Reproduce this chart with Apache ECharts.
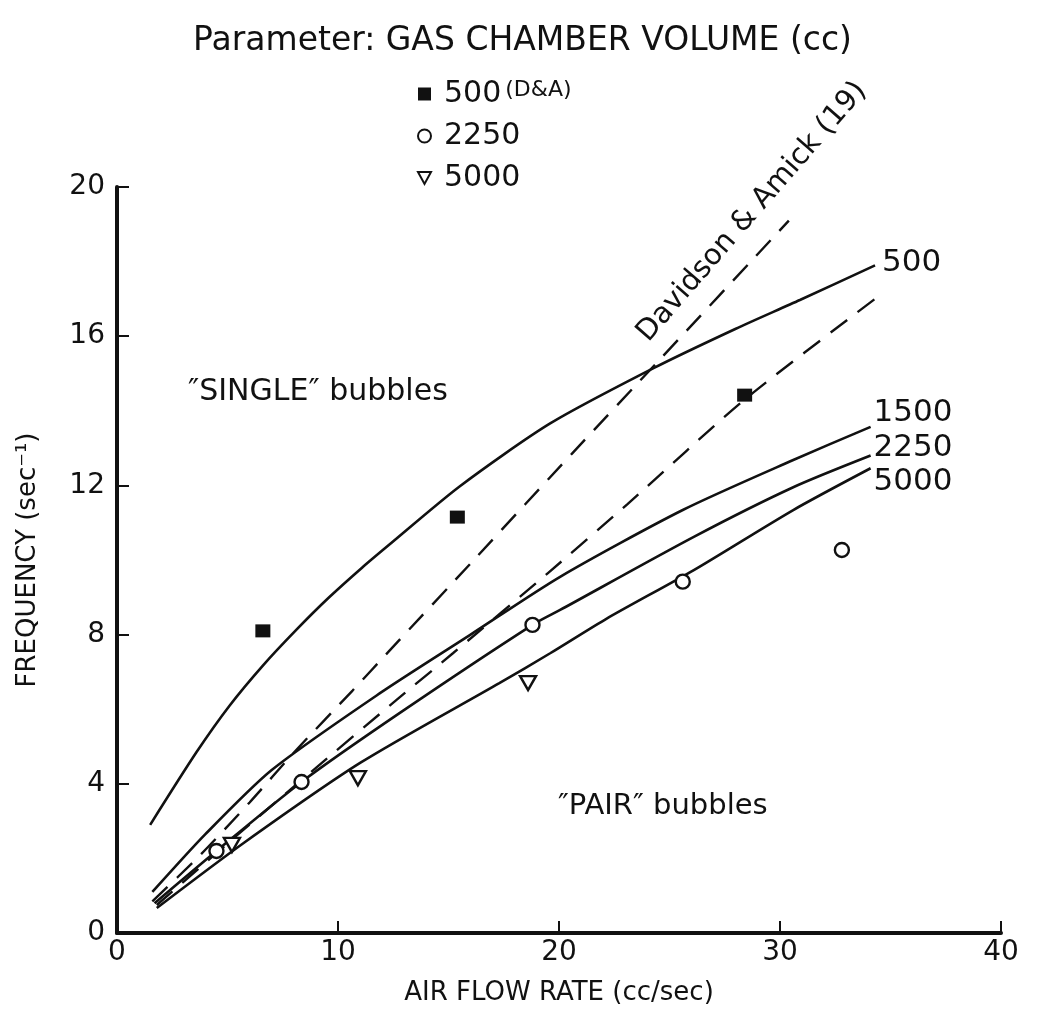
<!DOCTYPE html>
<html>
<head>
<meta charset="utf-8">
<script src="https://cdn.jsdelivr.net/npm/echarts@6/dist/echarts.min.js"></script>
<style>
  html, body { margin: 0; padding: 0; background: #fff; }
  #chart { width: 1045px; height: 1023px; }
</style>
</head>
<body>
<div id="chart"></div>
<script>
// Bubble frequency vs. air flow rate, parameter: gas chamber volume (cc)

// axis ticks
const xTicks = [0, 10, 20, 30, 40];
const yTicks = [0, 4, 8, 12, 16, 20];

// measured points  [air flow rate (cc/sec), frequency (1/sec)]
const pts500DA = [[6.6, 8.1], [15.4, 11.15], [28.4, 14.42]];
const pts2250 = [[4.5, 2.2], [8.35, 4.05], [18.8, 8.26], [25.6, 9.42], [32.8, 10.27]];
const pts5000 = [[5.2, 2.36], [10.9, 4.15], [18.6, 6.7]];

// fitted curves for each chamber volume
const curve500 = [[1.5, 2.9], [3.6, 4.85], [5.1, 6.1], [6.6, 7.17], [8.1, 8.12], [9.6, 9.0], [11.1, 9.8], [12.3, 10.4], [15.5, 11.97], [19.6, 13.66], [24.3, 15.15], [28, 16.2], [30.9, 16.97], [34.3, 17.9]];
const curve1500 = [[1.6, 1.1], [4, 2.65], [7, 4.37], [11.9, 6.43], [16, 8.0], [20.05, 9.55], [25.6, 11.34], [30.6, 12.68], [34.1, 13.57]];
const curve2250 = [[1.7, 0.8], [4.5, 2.2], [8.35, 4.05], [12.8, 5.9], [18.8, 8.26], [20.05, 8.66], [26.1, 10.62], [30.6, 11.95], [34.1, 12.8]];
const curve5000 = [[1.8, 0.67], [5.7, 2.4], [11, 4.56], [17.3, 6.7], [19.6, 7.5], [22.16, 8.43], [26.1, 9.73], [30.6, 11.34], [34.1, 12.46]];

// Davidson & Amick (19) prediction, and the dashed line through the 500 cc points
const predDA = [[1.6, 0.85], [3.7, 2.05], [6, 3.5], [8.1, 4.9], [10.66, 6.5], [12.3, 7.55], [16.3, 10.1], [20.6, 12.86], [24.6, 15.4], [30.4, 19.1]];
const dashed500 = [[1.8, 0.75], [5, 2.4], [8.35, 4.1], [12.65, 6.25], [15.2, 7.5], [19.5, 9.65], [23.1, 11.5], [28.4, 14.3], [34.3, 17.0]];

const curveLabels = ['500', '1500', '2250', '5000'];

const FONT = 'DejaVu Sans';
const INK = '#111';

const chart = echarts.init(document.getElementById('chart'), null, { renderer: 'canvas' });

function solid(name, data, label, offset) {
  return {
    type: 'line', name: name, data: data, smooth: 0.25,
    symbol: 'none', silent: true, z: 3,
    lineStyle: { color: INK, width: 2.6, type: 'solid' },
    endLabel: { show: true, formatter: label, color: INK, fontFamily: FONT, fontSize: 31, offset: offset, distance: 3 }
  };
}
function dashed(name, data) {
  return {
    type: 'line', name: name, data: data, smooth: 0.25,
    symbol: 'none', silent: true, z: 2,
    lineStyle: { color: INK, width: 2.4, type: [21, 13] }
  };
}

const option = {
  backgroundColor: '#fff',
  animation: false,
  title: {
    text: 'Parameter: GAS CHAMBER VOLUME (cc)',
    left: 'center', top: 20,
    textStyle: { fontFamily: FONT, fontWeight: 'normal', fontSize: 33, color: INK }
  },
  legend: {
    data: ['500 (D&A)', '2250', '5000'],
    orient: 'vertical', left: 412, top: 74,
    itemWidth: 13, itemHeight: 13, itemGap: 12,
    selectedMode: false,
    formatter: function (n) {
      if (n === '500 (D&A)') return '{a|500}{b|(D&A)}';
      return '{a|' + n + '}';
    },
    textStyle: {
      color: INK, fontFamily: FONT,
      rich: {
        a: { fontSize: 30, fontFamily: FONT, color: INK, padding: [0, 0, 0, 8] },
        b: { fontSize: 22, fontFamily: FONT, color: INK, verticalAlign: 'top', padding: [0, 0, 8, 4] }
      }
    }
  },
  grid: { left: 117, right: 44, top: 187, bottom: 90, containLabel: false },
  xAxis: {
    type: 'value', min: xTicks[0], max: xTicks[xTicks.length - 1], interval: 10,
    name: 'AIR FLOW RATE (cc/sec)', nameLocation: 'middle', nameGap: 47,
    nameTextStyle: { fontFamily: FONT, fontSize: 26, color: INK },
    axisLine: { lineStyle: { color: INK, width: 4 } },
    axisTick: { inside: true, length: 12, lineStyle: { color: INK, width: 2 } },
    axisLabel: { fontFamily: FONT, fontSize: 28, color: INK, margin: 6 },
    splitLine: { show: false }
  },
  yAxis: {
    type: 'value', min: yTicks[0], max: yTicks[yTicks.length - 1], interval: 4,
    name: 'FREQUENCY (sec⁻¹)', nameLocation: 'middle', nameGap: 76, nameRotate: 90,
    nameTextStyle: { fontFamily: FONT, fontSize: 26, color: INK },
    axisLine: { lineStyle: { color: INK, width: 4 } },
    axisTick: { inside: true, length: 12, lineStyle: { color: INK, width: 2 } },
    axisLabel: { fontFamily: FONT, fontSize: 28, color: INK, margin: 12 },
    splitLine: { show: false }
  },
  series: [
    solid('V500', curve500, curveLabels[0], [4, -2]),
    solid('V1500', curve1500, curveLabels[1], [0, -14]),
    solid('V2250', curve2250, curveLabels[2], [0, -8]),
    solid('V5000', curve5000, curveLabels[3], [0, 14]),
    dashed('Davidson & Amick', predDA),
    dashed('D&A 500', dashed500),
    {
      type: 'scatter', name: '500 (D&A)', data: pts500DA, z: 5,
      symbol: 'rect', symbolSize: [15, 13],
      itemStyle: { color: INK, opacity: 1 }
    },
    {
      type: 'scatter', name: '2250', data: pts2250, z: 5,
      symbol: 'circle', symbolSize: 14,
      itemStyle: { color: '#fff', borderColor: INK, borderWidth: 2.4, opacity: 1 }
    },
    {
      type: 'scatter', name: '5000', data: pts5000, z: 5,
      symbol: 'path://M0,0 L12,0 L6,11 Z', symbolSize: [16, 14],
      itemStyle: { color: '#fff', borderColor: INK, borderWidth: 2.4, opacity: 1 }
    }
  ],
  graphic: [
    {
      type: 'text', left: 188, top: 377,
      style: { text: '″SINGLE″ bubbles', fontFamily: FONT, fontSize: 30, fill: INK }
    },
    {
      type: 'text', left: 558, top: 792,
      style: { text: '″PAIR″ bubbles', fontFamily: FONT, fontSize: 29, fill: INK }
    },
    {
      type: 'text', x: 752, y: 212, rotation: 49 * Math.PI / 180,
      style: { text: 'Davidson & Amick (19)', fontFamily: FONT, fontSize: 29, fill: INK, align: 'center', verticalAlign: 'middle' }
    }
  ]
};

chart.setOption(option);
</script>
</body>
</html>
